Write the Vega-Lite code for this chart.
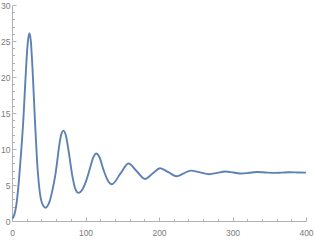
{
  "$schema": "https://vega.github.io/schema/vega-lite/v6.json",
  "width": 294,
  "height": 216,
  "autosize": {"type": "none"},
  "padding": {"left": 12, "top": 5, "right": 9, "bottom": 19},
  "background": "white",
  "config": {"view": {"stroke": null}},
  "data": {"values": [
    {"t": 0, "v": 0.3}, {"t": 3, "v": 0.8}, {"t": 6, "v": 2.3}, {"t": 8.6, "v": 4.7},
    {"t": 12, "v": 9}, {"t": 15.4, "v": 14}, {"t": 19, "v": 21}, {"t": 21.5, "v": 24.8},
    {"t": 23.5, "v": 26.1}, {"t": 25.5, "v": 25.1}, {"t": 28, "v": 21}, {"t": 31.2, "v": 14},
    {"t": 34, "v": 8.5}, {"t": 36.7, "v": 5.0}, {"t": 39, "v": 3.2}, {"t": 42, "v": 2.2},
    {"t": 45.7, "v": 1.84}, {"t": 49, "v": 2.2}, {"t": 52, "v": 3.0}, {"t": 55, "v": 4.3},
    {"t": 58.8, "v": 6.3}, {"t": 61, "v": 7.9}, {"t": 64, "v": 10.3}, {"t": 67, "v": 12.0},
    {"t": 70.1, "v": 12.55}, {"t": 73.5, "v": 11.8}, {"t": 76.9, "v": 9.8}, {"t": 82.4, "v": 6.1},
    {"t": 86, "v": 4.5}, {"t": 90.5, "v": 3.9}, {"t": 96, "v": 4.4}, {"t": 101, "v": 5.6},
    {"t": 106, "v": 7.3}, {"t": 110.5, "v": 8.8}, {"t": 114.5, "v": 9.37}, {"t": 119, "v": 8.85},
    {"t": 124.5, "v": 7.1}, {"t": 130, "v": 5.7}, {"t": 135.9, "v": 5.1},
    {"t": 147.2, "v": 6.54}, {"t": 158.4, "v": 7.98}, {"t": 169.7, "v": 6.91}, {"t": 181, "v": 5.84},
    {"t": 191.3, "v": 6.59}, {"t": 201.5, "v": 7.33}, {"t": 212.8, "v": 6.78}, {"t": 224, "v": 6.22},
    {"t": 233.5, "v": 6.61}, {"t": 243, "v": 7.0}, {"t": 255.8, "v": 6.75}, {"t": 268.5, "v": 6.5},
    {"t": 279.3, "v": 6.69}, {"t": 290, "v": 6.87}, {"t": 301.3, "v": 6.73}, {"t": 312.5, "v": 6.59},
    {"t": 322.8, "v": 6.7}, {"t": 333, "v": 6.81}, {"t": 344.5, "v": 6.745}, {"t": 356, "v": 6.68},
    {"t": 367, "v": 6.725}, {"t": 378, "v": 6.77}, {"t": 389, "v": 6.745}, {"t": 400, "v": 6.72}
  ]},
  "mark": {"type": "line", "interpolate": "monotone", "color": "#5E81B5", "strokeWidth": 1.9, "clip": true},
  "encoding": {
    "x": {
      "field": "t", "type": "quantitative",
      "scale": {"domain": [0, 400], "nice": false, "zero": false},
      "axis": {
        "title": null,
        "values": [0,20,40,60,80,100,120,140,160,180,200,220,240,260,280,300,320,340,360,380,400],
        "labelExpr": "datum.value % 100 === 0 ? datum.label : ''",
        "domainColor": "#b3b3b3", "tickColor": "#b3b3b3",
        "tickSize": {"condition": {"test": "datum.value % 100 === 0", "value": -4}, "value": -2.5},
        "labelPadding": 11, "labelColor": "#7a7a7a", "labelFont": "Liberation Sans", "labelFontSize": 8.5,
        "labelFlush": false, "labelOverlap": false, "grid": false
      }
    },
    "y": {
      "field": "v", "type": "quantitative",
      "scale": {"domain": [0, 30], "nice": false, "zero": false},
      "axis": {
        "title": null,
        "values": [0,1,2,3,4,5,6,7,8,9,10,11,12,13,14,15,16,17,18,19,20,21,22,23,24,25,26,27,28,29,30],
        "labelExpr": "datum.value % 5 === 0 ? datum.label : ''",
        "domainColor": "#b3b3b3", "tickColor": "#b3b3b3",
        "tickSize": {"condition": {"test": "datum.value % 5 === 0", "value": -4}, "value": -2.5},
        "labelPadding": 6, "labelColor": "#7a7a7a", "labelFont": "Liberation Sans", "labelFontSize": 8.5,
        "labelFlush": false, "labelOverlap": false, "grid": false
      }
    }
  }
}
